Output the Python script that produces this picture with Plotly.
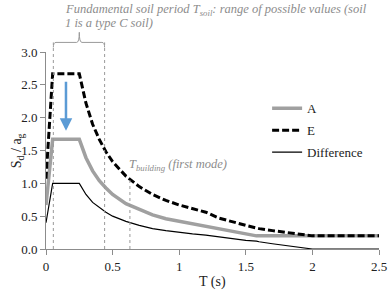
import plotly.graph_objects as go

# Period T (s)
T = [0, 0.05, 0.25, 0.3, 0.35, 0.4, 0.45, 0.5, 0.6, 0.7, 0.8, 0.9, 1.0, 1.1, 1.2,
     1.3, 1.4, 1.5, 1.58, 1.6, 1.7, 1.8, 1.9, 2.0, 2.5]
A_vals = [0.67, 1.67, 1.67, 1.39, 1.19, 1.04, 0.93, 0.83, 0.69, 0.60, 0.52, 0.46, 0.42, 0.38, 0.35,
          0.30, 0.26, 0.22, 0.20, 0.20, 0.20, 0.20, 0.20, 0.20, 0.20]
E_vals = [1.07, 2.67, 2.67, 2.22, 1.90, 1.67, 1.48, 1.33, 1.11, 0.95, 0.83, 0.74, 0.67, 0.61, 0.56,
          0.47, 0.41, 0.36, 0.32, 0.31, 0.28, 0.25, 0.22, 0.20, 0.20]
Diff_vals = [0.40, 1.00, 1.00, 0.83, 0.71, 0.63, 0.56, 0.50, 0.42, 0.36, 0.31, 0.28, 0.25, 0.23, 0.21,
             0.18, 0.15, 0.13, 0.12, 0.11, 0.08, 0.05, 0.02, 0.00, 0.00]

# Guide lines (T positions)
soil_period_range = [0.055, 0.44]
building_period = 0.63
building_line_top = 1.05
arrow_T = 0.15
arrow_from, arrow_to = 2.57, 1.80

FONT = "Times New Roman, Liberation Serif, serif"
GREY_TXT = "#8c8c8c"

fig = go.Figure()
fig.add_trace(go.Scatter(x=T, y=A_vals, name="A", mode="lines", legendgroup="a",
                         line=dict(color="#a0a0a0", width=3.5)))
fig.add_trace(go.Scatter(x=T, y=E_vals, name="E", mode="lines", legendgroup="e",
                         line=dict(color="black", width=3, dash="7px,3px")))
fig.add_trace(go.Scatter(x=T, y=Diff_vals, name="Difference", mode="lines", legendgroup="d",
                         line=dict(color="black", width=1.2)))

YMAX = 3.0
bracket_y = 3.146 / YMAX
end_y = 3.07 / YMAX
top_y = 3.30 / YMAX

for t in soil_period_range:
    fig.add_shape(type="line", xref="x", yref="paper", x0=t, x1=t, y0=0, y1=bracket_y,
                  line=dict(color="#999999", width=1, dash="dot"))
fig.add_shape(type="line", xref="x", yref="y", x0=building_period, x1=building_period,
              y0=0, y1=building_line_top, line=dict(color="#999999", width=1, dash="dot"))

# bracket
xl = soil_period_range[0] / 2.5
xr = soil_period_range[1] / 2.5
xc = 0.25 / 2.5
path = (f"M {xl},{end_y} Q {xl},{bracket_y} {xl+0.008},{bracket_y} "
        f"L {xc-0.008},{bracket_y} Q {xc},{bracket_y} {xc},{top_y} "
        f"Q {xc},{bracket_y} {xc+0.008},{bracket_y} "
        f"L {xr-0.008},{bracket_y} Q {xr},{bracket_y} {xr},{end_y}")
fig.add_shape(type="path", xref="paper", yref="paper", path=path,
              line=dict(color="#999999", width=1))

# arrow
fig.add_annotation(x=arrow_T, y=arrow_to, ax=arrow_T, ay=arrow_from, axref="x", ayref="y",
                   xref="x", yref="y", text="", showarrow=True, arrowhead=2, arrowsize=1,
                   arrowwidth=2.5, arrowcolor="#5b9bd5")

fig.add_annotation(xref="paper", yref="paper", x=0.05, y=1.213, xanchor="left", yanchor="middle",
                   text="<i>Fundamental soil period T<sub>soil</sub>: range of possible values (soil</i>",
                   showarrow=False, font=dict(family=FONT, size=12.5, color=GREY_TXT))
fig.add_annotation(xref="paper", yref="paper", x=0.05, y=1.148, xanchor="left", yanchor="middle",
                   text="<i>1 is a type C soil)</i>",
                   showarrow=False, font=dict(family=FONT, size=12.5, color=GREY_TXT))
fig.add_annotation(xref="x", yref="y", x=0.61, y=1.28, xanchor="left", yanchor="middle",
                   text="<i>T<sub>building</sub> (first mode)</i>",
                   showarrow=False, font=dict(family=FONT, size=12.5, color=GREY_TXT))

# axis titles
fig.add_annotation(xref="paper", yref="paper", x=0.5, y=-0.17, xanchor="center", yanchor="middle",
                   text="T (s)", showarrow=False, font=dict(family=FONT, size=14, color="#222"))
fig.add_annotation(xref="paper", yref="paper", x=-0.085, y=0.5, xanchor="center", yanchor="middle",
                   text="S<sub>d</sub> / a<sub>g</sub>", textangle=-90, showarrow=False,
                   font=dict(family=FONT, size=14, color="#222"))

axis_common = dict(showgrid=False, zeroline=False, showline=True, linecolor="#8c8c8c",
                   linewidth=1, ticks="outside", ticklen=5, tickcolor="#8c8c8c", automargin=False,
                   tickfont=dict(family=FONT, size=13, color="#222"))
fig.update_xaxes(range=[0, 2.5], tickvals=[0, 0.5, 1, 1.5, 2, 2.5],
                 ticktext=["0", "0.5", "1", "1.5", "2", "2.5"], **axis_common)
fig.update_yaxes(range=[0, YMAX], tickvals=[0, 0.5, 1, 1.5, 2, 2.5, 3],
                 ticktext=["0.0", "0.5", "1.0", "1.5", "2.0", "2.5", "3.0"], **axis_common)

fig.update_layout(
    width=388, height=293,
    margin=dict(l=46, r=9, t=52, b=44),
    plot_bgcolor="white", paper_bgcolor="white",
    showlegend=True,
    legend=dict(x=0.664, y=0.79, xanchor="left", yanchor="top", bgcolor="rgba(0,0,0,0)",
                font=dict(family=FONT, size=13, color="#222"), tracegroupgap=2,
                traceorder="grouped"),
)
fig.write_html("out.html", config={"displayModeBar": False},
               post_script="document.body.style.margin='0';")
